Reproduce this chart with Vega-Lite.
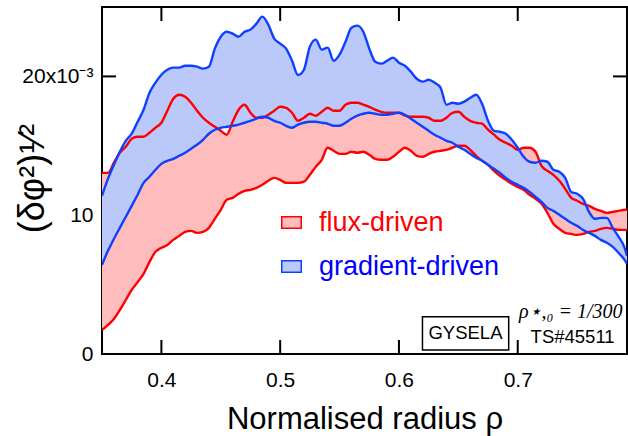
{
  "$schema": "https://vega.github.io/schema/vega-lite/v6.json",
  "autosize": "none",
  "width": 525,
  "height": 347,
  "padding": {"left": 102, "top": 7, "right": 1, "bottom": 82},
  "background": "white",
  "config": {
    "view": {"stroke": "black", "strokeWidth": 2},
    "axis": {"domain": false, "grid": false, "ticks": false, "labelFont": "Liberation Sans", "labelFontSize": 21, "labelColor": "black", "titleFont": "Liberation Sans", "titleColor": "black", "titleFontWeight": "normal", "labelFlush": false}
  },
  "datasets": {
    "bands": [
      {"series":"flux-driven","x":0.350,"hi":13.05,"lo":1.73},
      {"series":"flux-driven","x":0.355,"hi":13.05,"lo":2.09},
      {"series":"flux-driven","x":0.360,"hi":13.78,"lo":2.52},
      {"series":"flux-driven","x":0.365,"hi":14.50,"lo":3.17},
      {"series":"flux-driven","x":0.370,"hi":14.93,"lo":3.89},
      {"series":"flux-driven","x":0.375,"hi":15.51,"lo":4.62},
      {"series":"flux-driven","x":0.380,"hi":15.65,"lo":5.19},
      {"series":"flux-driven","x":0.385,"hi":15.65,"lo":5.77},
      {"series":"flux-driven","x":0.390,"hi":15.94,"lo":6.64},
      {"series":"flux-driven","x":0.395,"hi":16.30,"lo":7.36},
      {"series":"flux-driven","x":0.400,"hi":16.66,"lo":7.65},
      {"series":"flux-driven","x":0.405,"hi":17.53,"lo":7.86},
      {"series":"flux-driven","x":0.410,"hi":18.39,"lo":8.22},
      {"series":"flux-driven","x":0.415,"hi":18.68,"lo":8.51},
      {"series":"flux-driven","x":0.420,"hi":18.54,"lo":8.80},
      {"series":"flux-driven","x":0.425,"hi":18.10,"lo":8.87},
      {"series":"flux-driven","x":0.430,"hi":17.53,"lo":8.73},
      {"series":"flux-driven","x":0.435,"hi":17.02,"lo":8.80},
      {"series":"flux-driven","x":0.440,"hi":16.66,"lo":9.09},
      {"series":"flux-driven","x":0.445,"hi":16.37,"lo":9.74},
      {"series":"flux-driven","x":0.450,"hi":16.08,"lo":10.39},
      {"series":"flux-driven","x":0.455,"hi":15.80,"lo":11.11},
      {"series":"flux-driven","x":0.460,"hi":16.73,"lo":11.25},
      {"series":"flux-driven","x":0.465,"hi":17.60,"lo":11.54},
      {"series":"flux-driven","x":0.470,"hi":17.96,"lo":11.76},
      {"series":"flux-driven","x":0.475,"hi":17.38,"lo":11.83},
      {"series":"flux-driven","x":0.480,"hi":17.02,"lo":11.97},
      {"series":"flux-driven","x":0.485,"hi":17.02,"lo":12.19},
      {"series":"flux-driven","x":0.490,"hi":17.24,"lo":12.48},
      {"series":"flux-driven","x":0.495,"hi":17.53,"lo":12.69},
      {"series":"flux-driven","x":0.500,"hi":17.81,"lo":12.55},
      {"series":"flux-driven","x":0.505,"hi":17.74,"lo":12.33},
      {"series":"flux-driven","x":0.510,"hi":17.38,"lo":12.33},
      {"series":"flux-driven","x":0.515,"hi":16.80,"lo":12.33},
      {"series":"flux-driven","x":0.520,"hi":17.02,"lo":12.41},
      {"series":"flux-driven","x":0.525,"hi":17.31,"lo":12.91},
      {"series":"flux-driven","x":0.530,"hi":17.17,"lo":13.49},
      {"series":"flux-driven","x":0.535,"hi":17.45,"lo":13.99},
      {"series":"flux-driven","x":0.540,"hi":17.74,"lo":14.86},
      {"series":"flux-driven","x":0.545,"hi":17.53,"lo":14.64},
      {"series":"flux-driven","x":0.550,"hi":17.53,"lo":14.42},
      {"series":"flux-driven","x":0.555,"hi":17.96,"lo":14.42},
      {"series":"flux-driven","x":0.560,"hi":18.10,"lo":14.57},
      {"series":"flux-driven","x":0.565,"hi":18.10,"lo":14.50},
      {"series":"flux-driven","x":0.570,"hi":17.96,"lo":14.57},
      {"series":"flux-driven","x":0.575,"hi":17.81,"lo":14.35},
      {"series":"flux-driven","x":0.580,"hi":17.60,"lo":14.06},
      {"series":"flux-driven","x":0.585,"hi":17.45,"lo":13.99},
      {"series":"flux-driven","x":0.590,"hi":17.38,"lo":13.99},
      {"series":"flux-driven","x":0.595,"hi":17.38,"lo":14.21},
      {"series":"flux-driven","x":0.600,"hi":17.38,"lo":14.57},
      {"series":"flux-driven","x":0.605,"hi":17.17,"lo":14.86},
      {"series":"flux-driven","x":0.610,"hi":17.09,"lo":14.64},
      {"series":"flux-driven","x":0.615,"hi":17.09,"lo":14.28},
      {"series":"flux-driven","x":0.620,"hi":17.09,"lo":14.21},
      {"series":"flux-driven","x":0.625,"hi":17.02,"lo":14.42},
      {"series":"flux-driven","x":0.630,"hi":16.80,"lo":14.57},
      {"series":"flux-driven","x":0.635,"hi":16.80,"lo":14.64},
      {"series":"flux-driven","x":0.640,"hi":17.02,"lo":14.71},
      {"series":"flux-driven","x":0.645,"hi":17.38,"lo":14.86},
      {"series":"flux-driven","x":0.650,"hi":17.45,"lo":15.00},
      {"series":"flux-driven","x":0.655,"hi":17.09,"lo":15.00},
      {"series":"flux-driven","x":0.660,"hi":16.80,"lo":14.71},
      {"series":"flux-driven","x":0.665,"hi":16.66,"lo":14.28},
      {"series":"flux-driven","x":0.670,"hi":16.59,"lo":13.92},
      {"series":"flux-driven","x":0.675,"hi":16.16,"lo":13.63},
      {"series":"flux-driven","x":0.680,"hi":15.80,"lo":13.20},
      {"series":"flux-driven","x":0.685,"hi":15.43,"lo":12.84},
      {"series":"flux-driven","x":0.690,"hi":15.22,"lo":12.55},
      {"series":"flux-driven","x":0.695,"hi":15.00,"lo":12.26},
      {"series":"flux-driven","x":0.700,"hi":14.71,"lo":12.04},
      {"series":"flux-driven","x":0.705,"hi":14.86,"lo":11.83},
      {"series":"flux-driven","x":0.710,"hi":14.86,"lo":11.47},
      {"series":"flux-driven","x":0.715,"hi":14.57,"lo":11.18},
      {"series":"flux-driven","x":0.720,"hi":13.56,"lo":10.82},
      {"series":"flux-driven","x":0.725,"hi":13.20,"lo":10.17},
      {"series":"flux-driven","x":0.730,"hi":12.91,"lo":9.38},
      {"series":"flux-driven","x":0.735,"hi":12.48,"lo":9.02},
      {"series":"flux-driven","x":0.740,"hi":11.90,"lo":8.73},
      {"series":"flux-driven","x":0.745,"hi":11.25,"lo":8.65},
      {"series":"flux-driven","x":0.750,"hi":11.04,"lo":8.58},
      {"series":"flux-driven","x":0.755,"hi":10.82,"lo":8.65},
      {"series":"flux-driven","x":0.760,"hi":10.67,"lo":8.80},
      {"series":"flux-driven","x":0.765,"hi":10.46,"lo":8.87},
      {"series":"flux-driven","x":0.770,"hi":10.31,"lo":9.02},
      {"series":"flux-driven","x":0.775,"hi":10.17,"lo":9.09},
      {"series":"flux-driven","x":0.780,"hi":10.24,"lo":9.02},
      {"series":"flux-driven","x":0.785,"hi":10.31,"lo":8.94},
      {"series":"flux-driven","x":0.790,"hi":10.39,"lo":8.94},
      {"series":"flux-driven","x":0.792,"hi":10.39,"lo":8.94},
      {"series":"gradient-driven","x":0.350,"hi":11.40,"lo":6.42},
      {"series":"gradient-driven","x":0.355,"hi":12.62,"lo":7.43},
      {"series":"gradient-driven","x":0.360,"hi":13.63,"lo":8.29},
      {"series":"gradient-driven","x":0.365,"hi":14.57,"lo":9.09},
      {"series":"gradient-driven","x":0.370,"hi":15.36,"lo":9.88},
      {"series":"gradient-driven","x":0.375,"hi":15.87,"lo":10.67},
      {"series":"gradient-driven","x":0.380,"hi":16.73,"lo":11.47},
      {"series":"gradient-driven","x":0.385,"hi":17.60,"lo":12.33},
      {"series":"gradient-driven","x":0.390,"hi":18.82,"lo":12.77},
      {"series":"gradient-driven","x":0.395,"hi":19.55,"lo":13.27},
      {"series":"gradient-driven","x":0.400,"hi":20.12,"lo":13.70},
      {"series":"gradient-driven","x":0.405,"hi":20.48,"lo":13.92},
      {"series":"gradient-driven","x":0.410,"hi":20.63,"lo":14.06},
      {"series":"gradient-driven","x":0.415,"hi":20.63,"lo":14.28},
      {"series":"gradient-driven","x":0.420,"hi":20.77,"lo":14.50},
      {"series":"gradient-driven","x":0.425,"hi":20.77,"lo":14.79},
      {"series":"gradient-driven","x":0.430,"hi":20.70,"lo":15.07},
      {"series":"gradient-driven","x":0.435,"hi":20.56,"lo":15.43},
      {"series":"gradient-driven","x":0.440,"hi":20.70,"lo":15.87},
      {"series":"gradient-driven","x":0.445,"hi":22.00,"lo":16.16},
      {"series":"gradient-driven","x":0.450,"hi":22.86,"lo":16.30},
      {"series":"gradient-driven","x":0.455,"hi":23.22,"lo":16.37},
      {"series":"gradient-driven","x":0.460,"hi":23.08,"lo":16.44},
      {"series":"gradient-driven","x":0.465,"hi":22.86,"lo":16.52},
      {"series":"gradient-driven","x":0.470,"hi":23.22,"lo":16.66},
      {"series":"gradient-driven","x":0.475,"hi":23.37,"lo":16.80},
      {"series":"gradient-driven","x":0.480,"hi":23.80,"lo":16.95},
      {"series":"gradient-driven","x":0.485,"hi":24.31,"lo":17.09},
      {"series":"gradient-driven","x":0.490,"hi":23.73,"lo":17.02},
      {"series":"gradient-driven","x":0.495,"hi":22.72,"lo":16.80},
      {"series":"gradient-driven","x":0.500,"hi":22.36,"lo":16.66},
      {"series":"gradient-driven","x":0.505,"hi":22.00,"lo":16.44},
      {"series":"gradient-driven","x":0.510,"hi":21.13,"lo":16.30},
      {"series":"gradient-driven","x":0.515,"hi":20.10,"lo":16.52},
      {"series":"gradient-driven","x":0.520,"hi":20.48,"lo":16.66},
      {"series":"gradient-driven","x":0.525,"hi":22.14,"lo":16.73},
      {"series":"gradient-driven","x":0.530,"hi":22.65,"lo":16.73},
      {"series":"gradient-driven","x":0.535,"hi":21.93,"lo":16.66},
      {"series":"gradient-driven","x":0.540,"hi":22.07,"lo":16.59},
      {"series":"gradient-driven","x":0.545,"hi":21.13,"lo":16.44},
      {"series":"gradient-driven","x":0.550,"hi":21.57,"lo":16.44},
      {"series":"gradient-driven","x":0.555,"hi":22.50,"lo":16.66},
      {"series":"gradient-driven","x":0.560,"hi":23.51,"lo":16.95},
      {"series":"gradient-driven","x":0.565,"hi":23.66,"lo":17.17},
      {"series":"gradient-driven","x":0.570,"hi":23.22,"lo":17.31},
      {"series":"gradient-driven","x":0.575,"hi":22.00,"lo":17.38},
      {"series":"gradient-driven","x":0.580,"hi":21.06,"lo":17.31},
      {"series":"gradient-driven","x":0.585,"hi":20.92,"lo":17.24},
      {"series":"gradient-driven","x":0.590,"hi":21.13,"lo":17.24},
      {"series":"gradient-driven","x":0.595,"hi":21.35,"lo":17.31},
      {"series":"gradient-driven","x":0.600,"hi":20.99,"lo":17.38},
      {"series":"gradient-driven","x":0.605,"hi":20.77,"lo":17.24},
      {"series":"gradient-driven","x":0.610,"hi":20.34,"lo":16.95},
      {"series":"gradient-driven","x":0.615,"hi":19.83,"lo":16.66},
      {"series":"gradient-driven","x":0.620,"hi":19.62,"lo":16.37},
      {"series":"gradient-driven","x":0.625,"hi":19.76,"lo":16.08},
      {"series":"gradient-driven","x":0.630,"hi":19.55,"lo":15.80},
      {"series":"gradient-driven","x":0.635,"hi":19.19,"lo":15.58},
      {"series":"gradient-driven","x":0.640,"hi":17.96,"lo":15.36},
      {"series":"gradient-driven","x":0.645,"hi":18.10,"lo":15.22},
      {"series":"gradient-driven","x":0.650,"hi":18.03,"lo":14.93},
      {"series":"gradient-driven","x":0.655,"hi":18.18,"lo":14.71},
      {"series":"gradient-driven","x":0.660,"hi":18.46,"lo":14.42},
      {"series":"gradient-driven","x":0.665,"hi":18.68,"lo":14.14},
      {"series":"gradient-driven","x":0.670,"hi":18.03,"lo":13.92},
      {"series":"gradient-driven","x":0.675,"hi":16.80,"lo":13.63},
      {"series":"gradient-driven","x":0.680,"hi":16.08,"lo":13.34},
      {"series":"gradient-driven","x":0.685,"hi":16.01,"lo":13.05},
      {"series":"gradient-driven","x":0.690,"hi":15.87,"lo":12.69},
      {"series":"gradient-driven","x":0.695,"hi":15.43,"lo":12.41},
      {"series":"gradient-driven","x":0.700,"hi":14.86,"lo":12.19},
      {"series":"gradient-driven","x":0.705,"hi":14.21,"lo":11.97},
      {"series":"gradient-driven","x":0.710,"hi":13.85,"lo":11.68},
      {"series":"gradient-driven","x":0.715,"hi":13.78,"lo":11.32},
      {"series":"gradient-driven","x":0.720,"hi":13.92,"lo":10.96},
      {"series":"gradient-driven","x":0.725,"hi":13.85,"lo":10.53},
      {"series":"gradient-driven","x":0.730,"hi":13.27,"lo":10.31},
      {"series":"gradient-driven","x":0.735,"hi":13.13,"lo":10.03},
      {"series":"gradient-driven","x":0.740,"hi":12.69,"lo":9.74},
      {"series":"gradient-driven","x":0.745,"hi":11.68,"lo":9.45},
      {"series":"gradient-driven","x":0.750,"hi":11.54,"lo":9.23},
      {"series":"gradient-driven","x":0.755,"hi":11.18,"lo":8.94},
      {"series":"gradient-driven","x":0.760,"hi":10.24,"lo":8.73},
      {"series":"gradient-driven","x":0.765,"hi":9.74,"lo":8.51},
      {"series":"gradient-driven","x":0.770,"hi":9.81,"lo":8.22},
      {"series":"gradient-driven","x":0.775,"hi":9.81,"lo":8.01},
      {"series":"gradient-driven","x":0.780,"hi":9.09,"lo":7.72},
      {"series":"gradient-driven","x":0.785,"hi":8.44,"lo":7.28},
      {"series":"gradient-driven","x":0.790,"hi":7.65,"lo":6.78},
      {"series":"gradient-driven","x":0.792,"hi":7.07,"lo":6.49}
    ],
    "xticks": [{"v":0.4},{"v":0.5},{"v":0.6},{"v":0.7}],
    "yticks": [{"v":0},{"v":10},{"v":20}],
    "box": [{"x":0.6198,"x2":0.6924,"y":0.29,"y2":2.69}],
    "sansnotes": [
      {"x":0.656,"y":1.51,"text":"GYSELA"},
      {"x":0.7462,"y":1.19,"text":"TS#45511"}
    ],
    "serifnotes": [
      {"x":0.7446,"y":3.03,"text":"ρ⋆,₀ = 1/300"}
    ]
  },
  "layer": [
    {
      "data": {"name": "xticks"},
      "mark": {"type": "rule", "color": "black", "strokeWidth": 2},
      "encoding": {
        "x": {"field": "v", "type": "quantitative", "scale": {"domain": [0.35, 0.792], "nice": false, "zero": false},
              "axis": {"orient": "bottom", "values": [0.4, 0.5, 0.6, 0.7], "format": ".1f", "labelPadding": 15, "title": "Normalised radius  ρ", "titleFontSize": 31, "titleY": 74, "titleBaseline": "alphabetic"}},
        "y": {"datum": 0, "type": "quantitative", "scale": {"domain": [0, 25], "nice": false, "zero": false},
              "axis": {"orient": "left", "values": [0, 10, 20], "format": "d", "labelExpr": "datum.value === 20 ? '20x10⁻³' : datum.label", "labelPadding": 9, "title": "(δφ²)¹⁄²", "titleFontSize": 36, "titleX": -70, "titleY": 171, "titleAngle": -90, "titleBaseline": "middle", "titleAlign": "center"}},
        "y2": {"datum": 1.01}
      }
    },
    {
      "data": {"name": "xticks"},
      "mark": {"type": "rule", "color": "black", "strokeWidth": 2},
      "encoding": {"x": {"field": "v", "type": "quantitative"}, "y": {"datum": 23.99, "type": "quantitative"}, "y2": {"datum": 25}}
    },
    {
      "data": {"name": "yticks"},
      "mark": {"type": "rule", "color": "black", "strokeWidth": 2},
      "encoding": {"y": {"field": "v", "type": "quantitative"}, "x": {"datum": 0.35, "type": "quantitative"}, "x2": {"datum": 0.3618}}
    },
    {
      "data": {"name": "yticks"},
      "mark": {"type": "rule", "color": "black", "strokeWidth": 2},
      "encoding": {"y": {"field": "v", "type": "quantitative"}, "x": {"datum": 0.7802, "type": "quantitative"}, "x2": {"datum": 0.792}}
    },
    {
      "data": {"name": "bands"},
      "transform": [{"filter": "datum.series === 'flux-driven'"}],
      "mark": {"type": "area", "interpolate": "monotone", "clip": true},
      "encoding": {
        "x": {"field": "x", "type": "quantitative"},
        "y": {"field": "lo", "type": "quantitative"},
        "y2": {"field": "hi"},
        "fill": {"field": "series", "type": "nominal",
                 "scale": {"domain": ["flux-driven", "gradient-driven"], "range": ["#ffbcbc", "#bac8fa"]},
                 "legend": {"orient": "none", "legendX": 176, "legendY": 202, "title": null, "labelFont": "Liberation Sans", "labelFontSize": 27, "labelLimit": 0, "labelOffset": 14, "rowPadding": 16, "symbolType": "M-1,-0.6H1V0.6H-1Z", "symbolSize": 380, "symbolStrokeWidth": 1.5, "symbolOpacity": 1,
                   "encode": {"symbols": {"update": {"stroke": {"signal": "datum.label === 'flux-driven' ? '#ff0000' : '#1040ff'"}, "strokeWidth": {"value": 1.5}}},
                              "labels": {"update": {"fill": {"signal": "datum.label === 'flux-driven' ? '#ff0000' : '#0000ff'"}}}}}}
      }
    },
    {
      "data": {"name": "bands"},
      "transform": [{"filter": "datum.series === 'gradient-driven'"}],
      "mark": {"type": "area", "interpolate": "monotone", "clip": true},
      "encoding": {
        "x": {"field": "x", "type": "quantitative"},
        "y": {"field": "lo", "type": "quantitative"},
        "y2": {"field": "hi"},
        "fill": {"field": "series", "type": "nominal",
                 "legend": {"orient": "none", "legendX": 176, "legendY": 202, "title": null, "labelFont": "Liberation Sans", "labelFontSize": 27, "labelLimit": 0, "labelOffset": 14, "rowPadding": 16, "symbolType": "M-1,-0.6H1V0.6H-1Z", "symbolSize": 380, "symbolStrokeWidth": 1.5, "symbolOpacity": 1,
                   "encode": {"symbols": {"update": {"stroke": {"signal": "datum.label === 'flux-driven' ? '#ff0000' : '#1040ff'"}, "strokeWidth": {"value": 1.5}}},
                              "labels": {"update": {"fill": {"signal": "datum.label === 'flux-driven' ? '#ff0000' : '#0000ff'"}}}}}}
      }
    },
    {
      "data": {"name": "bands"},
      "transform": [{"filter": "datum.series === 'flux-driven'"}],
      "mark": {"type": "line", "interpolate": "monotone", "color": "#ff0000", "strokeWidth": 2.4, "clip": true},
      "encoding": {"x": {"field": "x", "type": "quantitative"}, "y": {"field": "hi", "type": "quantitative"}}
    },
    {
      "data": {"name": "bands"},
      "transform": [{"filter": "datum.series === 'flux-driven'"}],
      "mark": {"type": "line", "interpolate": "monotone", "color": "#ff0000", "strokeWidth": 2.4, "clip": true},
      "encoding": {"x": {"field": "x", "type": "quantitative"}, "y": {"field": "lo", "type": "quantitative"}}
    },
    {
      "data": {"name": "bands"},
      "transform": [{"filter": "datum.series === 'gradient-driven'"}],
      "mark": {"type": "line", "interpolate": "monotone", "color": "#1040ff", "strokeWidth": 2.4, "clip": true},
      "encoding": {"x": {"field": "x", "type": "quantitative"}, "y": {"field": "hi", "type": "quantitative"}}
    },
    {
      "data": {"name": "bands"},
      "transform": [{"filter": "datum.series === 'gradient-driven'"}],
      "mark": {"type": "line", "interpolate": "monotone", "color": "#1040ff", "strokeWidth": 2.4, "clip": true},
      "encoding": {"x": {"field": "x", "type": "quantitative"}, "y": {"field": "lo", "type": "quantitative"}}
    },
    {
      "data": {"name": "box"},
      "mark": {"type": "rect", "fill": "white", "stroke": "black", "strokeWidth": 1.5},
      "encoding": {"x": {"field": "x", "type": "quantitative"}, "x2": {"field": "x2"}, "y": {"field": "y", "type": "quantitative"}, "y2": {"field": "y2"}}
    },
    {
      "data": {"name": "sansnotes"},
      "mark": {"type": "text", "font": "Liberation Sans", "fontSize": 18.5, "color": "black", "align": "center", "baseline": "middle"},
      "encoding": {"x": {"field": "x", "type": "quantitative"}, "y": {"field": "y", "type": "quantitative"}, "text": {"field": "text"}}
    },
    {
      "data": {"name": "serifnotes"},
      "mark": {"type": "text", "font": "Liberation Serif", "fontStyle": "italic", "fontSize": 20, "color": "black", "align": "center", "baseline": "middle"},
      "encoding": {"x": {"field": "x", "type": "quantitative"}, "y": {"field": "y", "type": "quantitative"}, "text": {"field": "text"}}
    }
  ]
}
